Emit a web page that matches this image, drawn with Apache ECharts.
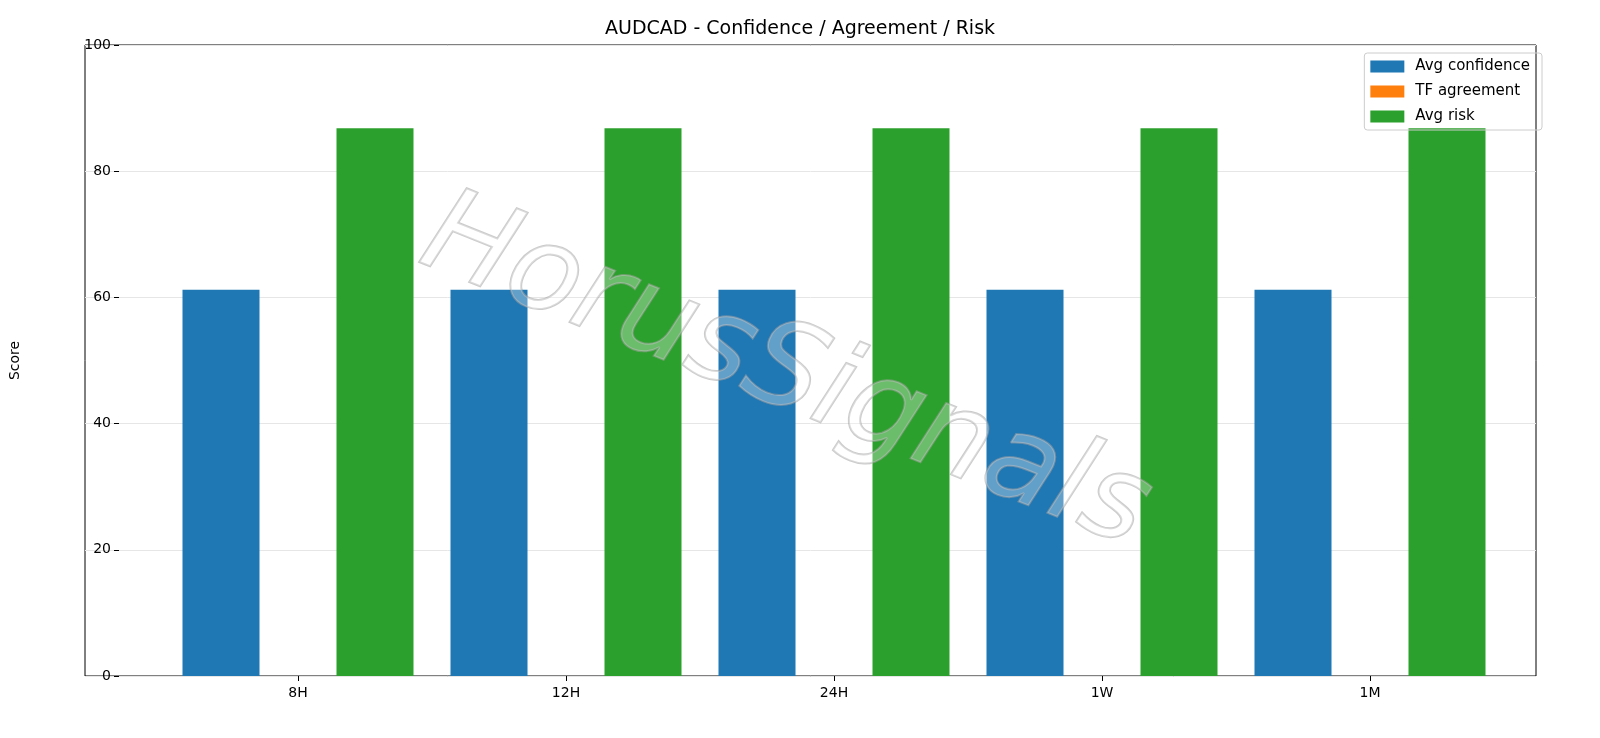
<!DOCTYPE html>
<html><head><meta charset="utf-8">
<script src="https://cdn.jsdelivr.net/npm/echarts@6/dist/echarts.min.js"></script>
<style>html,body{margin:0;padding:0;background:#fff}#c{width:1600px;height:738px}</style>
</head><body><div id="c"></div>
<script>
const categories = ['8H','12H','24H','1W','1M'];
const avgConfidence = [61.2,61.2,61.2,61.2,61.2];
const tfAgreement = [0,0,0,0,0];
const avgRisk = [86.8,86.8,86.8,86.8,86.8];
const yTicks = [0,20,40,60,80,100];
const F = 'DejaVu Sans';
const chart = echarts.init(document.getElementById('c'));
chart.setOption({
  animation:false,
  textStyle:{fontFamily:F},
  title:{text:'AUDCAD - Confidence / Agreement / Risk',left:'center',top:15,textStyle:{fontFamily:F,fontSize:19,fontWeight:'normal',color:'#000'}},
  legend:{right:58,top:53,orient:'vertical',itemWidth:34,itemHeight:12,itemGap:10,padding:[6,12,6,6],
    borderColor:'#ccc',borderWidth:1,borderRadius:3,textStyle:{fontFamily:F,fontSize:15,color:'#000',padding:[0,0,0,6]},
    data:['Avg confidence','TF agreement','Avg risk'],icon:'rect'},
  grid:[{left:130,right:96,top:45,bottom:62},
        {left:85,right:64,top:45,bottom:62,show:true,borderColor:'#000',borderWidth:1,backgroundColor:'transparent'}],
  xAxis:[{type:'category',data:categories,gridIndex:0,axisTick:{show:true,alignWithLabel:true,length:5,lineStyle:{color:'#000'}},
    axisLine:{show:false},axisLabel:{color:'#000',fontSize:14,margin:10}},
    {type:'value',gridIndex:1,min:0,max:1,show:false}],
  yAxis:[{type:'value',gridIndex:0,min:0,max:100,interval:20,name:'Score',nameLocation:'middle',nameGap:97,offset:45,
    nameTextStyle:{color:'#000',fontSize:14},
    axisLine:{show:false},axisTick:{show:true,length:5,lineStyle:{color:'#000'}},
    axisLabel:{color:'#000',fontSize:14,formatter:v=>yTicks.includes(v)?String(v):''},
    splitLine:{show:false}},
    {type:'value',gridIndex:1,min:0,max:100,interval:20,axisLine:{show:false},axisTick:{show:false},axisLabel:{show:false},
    splitLine:{lineStyle:{color:'#e6e6e6'}}}],
  series:[
    {name:'Avg confidence',type:'bar',data:avgConfidence,itemStyle:{color:'#1f77b4'},barWidth:77,barGap:'0%',z:3},
    {name:'TF agreement',type:'bar',data:tfAgreement,itemStyle:{color:'#ff7f0e'},barWidth:77,barGap:'0%',z:3},
    {name:'Avg risk',type:'bar',data:avgRisk,itemStyle:{color:'#2ca02c'},barWidth:77,barGap:'0%',z:3}
  ],
  graphic:[{type:'text',x:785,y:375,rotation:-0.38,z:100,
    style:{text:'HorusSignals',font:'italic 118px "DejaVu Sans"',fill:'rgba(255,255,255,0.3)',
      stroke:'rgba(160,160,160,0.55)',lineWidth:2,align:'center',verticalAlign:'middle',
      shadowColor:'rgba(0,0,0,0.25)',shadowOffsetX:5,shadowOffsetY:5,shadowBlur:2}}]
});
</script></body></html>
